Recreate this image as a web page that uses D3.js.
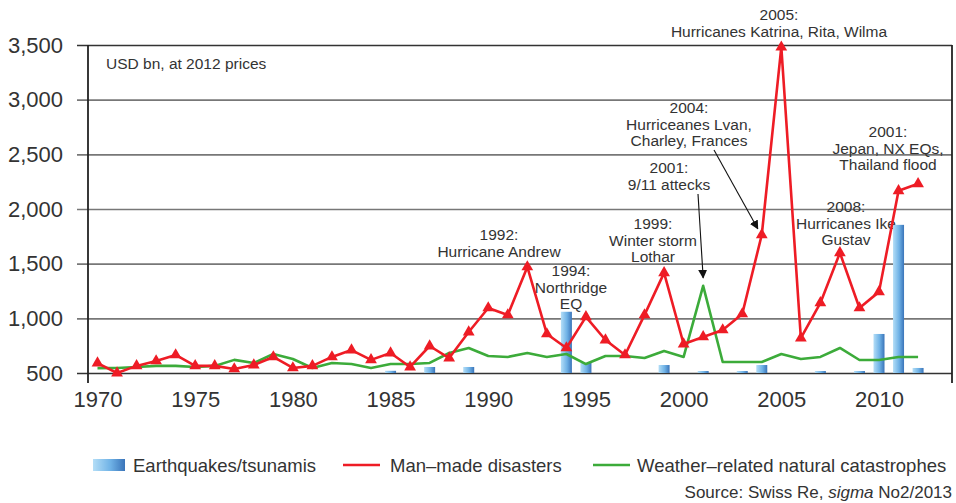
<!DOCTYPE html>
<html>
<head>
<meta charset="utf-8">
<script src="https://cdn.jsdelivr.net/npm/d3@7/dist/d3.min.js"></script>
<style>
body { margin: 0; background: #fff; }
svg text { font-family: "Liberation Sans", Arial, sans-serif; fill: #333; }
</style>
</head>
<body>
<div id="chart"></div>
<script>
// values (USD bn, 2012 prices)
var years = [1970, 1971, 1972, 1973, 1974, 1975, 1976, 1977, 1978, 1979,
             1980, 1981, 1982, 1983, 1984, 1985, 1986, 1987, 1988, 1989,
             1990, 1991, 1992, 1993, 1994, 1995, 1996, 1997, 1998, 1999,
             2000, 2001, 2002, 2003, 2004, 2005, 2006, 2007, 2008, 2009,
             2010, 2011, 2012];
var manMade = [590, 500, 565, 610, 665, 565, 565, 537, 573, 647,
               546, 565, 647, 710, 620, 683, 555, 747, 637, 875,
               1095, 1031, 1470, 857, 729, 1013, 802, 665, 1031, 1416,
               765, 830, 894, 1040, 1764, 3480, 820, 1141, 1599, 1095,
               1242, 2167, 2231];
var weather = [545, 546, 555, 565, 565, 555, 565, 620, 592, 674,
               628, 546, 592, 582, 546, 582, 582, 592, 683, 729,
               656, 647, 683, 647, 674, 582, 656, 656, 637, 701,
               647, 1297, 601, 601, 601, 674, 628, 647, 729, 619,
               619, 647, 647];
var quakeYears = [1985, 1987, 1989, 1994, 1995, 1999, 2001, 2003, 2004, 2007, 2009, 2010, 2011, 2012];
var quakeValues = [520, 555, 555, 1060, 592, 573, 518, 518, 573, 518, 518, 857, 1855, 546];
var xTicks = [1970, 1975, 1980, 1985, 1990, 1995, 2000, 2005, 2010];
var yTicks = [500, 1000, 1500, 2000, 2500, 3000, 3500];
var seriesNames = ["Earthquakes/tsunamis", "Man\u2013made disasters", "Weather\u2013related natural catastrophes"];

var width = 956, height = 503;
var gridLeft = 77, axisX = 88, plotRight = 952, plotBottom = 383;
var red = "#ee1c25", green = "#3cab3a";

var svg = d3.select("#chart").append("svg")
    .attr("width", width).attr("height", height);

var defs = svg.append("defs");
var grad = defs.append("linearGradient").attr("id", "barGrad")
    .attr("x1", "0%").attr("x2", "100%").attr("y1", "0%").attr("y2", "0%");
grad.append("stop").attr("offset", "0%").attr("stop-color", "#b4def7");
grad.append("stop").attr("offset", "55%").attr("stop-color", "#6fb2e6");
grad.append("stop").attr("offset", "100%").attr("stop-color", "#3a74b9");
defs.append("marker").attr("id", "arrow")
    .attr("viewBox", "0 0 10 10").attr("refX", 9).attr("refY", 5)
    .attr("markerWidth", 9).attr("markerHeight", 9).attr("orient", "auto")
    .attr("markerUnits", "userSpaceOnUse")
  .append("path").attr("d", "M0,0 L10,5 L0,10 Z").attr("fill", "#111");

var x = d3.scaleLinear().domain([1970, 2010]).range([97.5, 879]);
var y = d3.scaleLinear().domain([500, 3500]).range([373, 45]);

// grid + y labels
var yAxis = d3.axisLeft(y).tickValues(yTicks)
    .tickSize(-(plotRight - gridLeft)).tickPadding(14)
    .tickFormat(d3.format(","));
var gy = svg.append("g").attr("transform", "translate(" + gridLeft + ",0)").call(yAxis);
gy.select(".domain").remove();
gy.selectAll(".tick line")
    .attr("stroke", function(d) { return d === 3500 || d === 500 ? "#333" : "#777"; })
    .attr("stroke-width", 1.6);
gy.selectAll(".tick text").attr("fill", "#333").style("font-size", "22px");

// frame
svg.append("line").attr("x1", axisX).attr("x2", axisX).attr("y1", y(3500)).attr("y2", plotBottom)
    .attr("stroke", "#222").attr("stroke-width", 1.8);
svg.append("line").attr("x1", plotRight).attr("x2", plotRight).attr("y1", y(3500)).attr("y2", plotBottom)
    .attr("stroke", "#222").attr("stroke-width", 1.8);

// x labels
var xAxis = d3.axisBottom(x).tickValues(xTicks).tickSize(0).tickPadding(8).tickFormat(d3.format("d"));
var gx = svg.append("g").attr("transform", "translate(0," + plotBottom + ")").call(xAxis);
gx.select(".domain").remove();
gx.selectAll(".tick text").attr("fill", "#333").style("font-size", "22px");

// annotations (drawn under the marks, as in the original)
svg.append("text").attr("x", 106).attr("y", 69).style("font-size", "15.5px").text("USD bn, at 2012 prices");

var notes = [
    {x: 779, y: 20, lines: ["2005:", "Hurricanes Katrina, Rita, Wilma"]},
    {x: 499, y: 240, lines: ["1992:", "Hurricane Andrew"]},
    {x: 571, y: 276, lines: ["1994:", "Northridge", "EQ"]},
    {x: 653, y: 229, lines: ["1999:", "Winter storm", "Lothar"]},
    {x: 669, y: 173, lines: ["2001:", "9/11 attecks"]},
    {x: 689, y: 113, lines: ["2004:", "Hurriceanes Lvan,", "Charley, Frances"]},
    {x: 846, y: 212, lines: ["2008:", "Hurricanes Ike", "Gustav"]},
    {x: 888, y: 137, lines: ["2001:", "Jepan, NX EQs,", "Thailand flood"]}
];
notes.forEach(function(n) {
    var t = svg.append("text").attr("text-anchor", "middle").style("font-size", "15.5px");
    n.lines.forEach(function(l, i) {
        t.append("tspan").attr("x", n.x).attr("y", n.y + i * 16.5).text(l);
    });
});

svg.append("line").attr("x1", 698).attr("y1", 194)
    .attr("x2", x(2001)).attr("y2", y(weather[31]) - 8)
    .attr("stroke", "#111").attr("stroke-width", 1.1).attr("marker-end", "url(#arrow)");
svg.append("line").attr("x1", 714).attr("y1", 150)
    .attr("x2", x(2004) - 4).attr("y2", y(manMade[34]) - 6)
    .attr("stroke", "#111").attr("stroke-width", 1.1).attr("marker-end", "url(#arrow)");

// earthquake bars
var barW = 11;
svg.append("g").selectAll("rect")
    .data(quakeYears.map(function(yr, i) { return {year: yr, value: quakeValues[i]}; }))
    .enter().append("rect")
    .attr("x", function(d) { return x(d.year) - barW / 2; })
    .attr("y", function(d) { return y(d.value); })
    .attr("width", barW)
    .attr("height", function(d) { return y(500) - y(d.value); })
    .attr("fill", "url(#barGrad)");

var line = d3.line()
    .x(function(d, i) { return x(years[i]); })
    .y(function(d) { return y(d); });

svg.append("path").datum(weather).attr("d", line)
    .attr("fill", "none").attr("stroke", green).attr("stroke-width", 2.6)
    .attr("stroke-linejoin", "round");
svg.append("path").datum(manMade).attr("d", line)
    .attr("fill", "none").attr("stroke", red).attr("stroke-width", 2.6)
    .attr("stroke-linejoin", "round");

svg.append("g").selectAll("path")
    .data(manMade).enter().append("path")
    .attr("d", d3.symbol().type(d3.symbolTriangle).size(60))
    .attr("transform", function(d, i) { return "translate(" + x(years[i]) + "," + y(d) + ")"; })
    .attr("fill", red);

// legend
var lg = svg.append("g").style("font-size", "18.5px");
lg.append("rect").attr("x", 93).attr("y", 459).attr("width", 32).attr("height", 12).attr("fill", "url(#barGrad)");
lg.append("text").attr("x", 133).attr("y", 472).text(seriesNames[0]);
lg.append("line").attr("x1", 343).attr("x2", 380).attr("y1", 465).attr("y2", 465).attr("stroke", red).attr("stroke-width", 2.6);
lg.append("text").attr("x", 390).attr("y", 472).text(seriesNames[1]);
lg.append("line").attr("x1", 593).attr("x2", 630).attr("y1", 465).attr("y2", 465).attr("stroke", green).attr("stroke-width", 2.6);
lg.append("text").attr("x", 637).attr("y", 472).text(seriesNames[2]);

var src = svg.append("text").attr("x", 952).attr("y", 498).attr("text-anchor", "end").style("font-size", "17px");
src.append("tspan").text("Source: Swiss Re, ");
src.append("tspan").style("font-style", "italic").text("sigma");
src.append("tspan").text(" No2/2013");
</script>
</body>
</html>
